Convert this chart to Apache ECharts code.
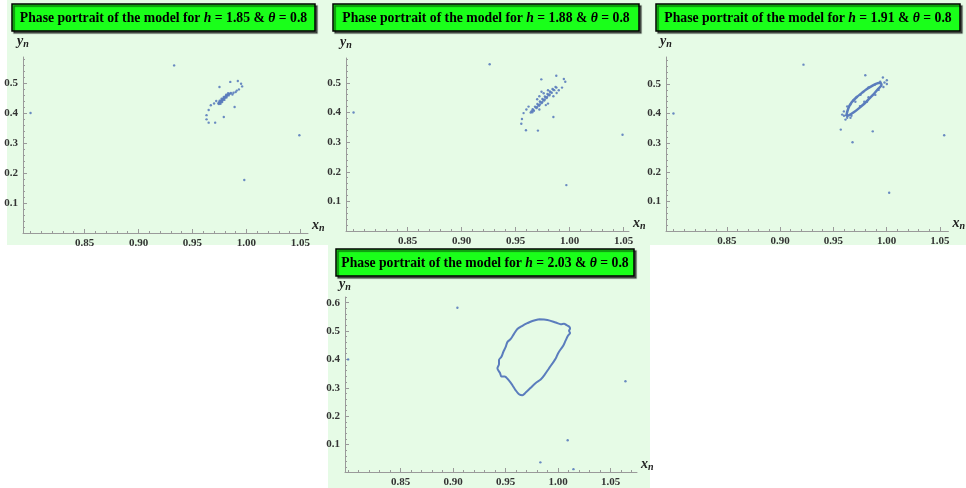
<!DOCTYPE html>
<html><head><meta charset="utf-8">
<script src="https://cdn.jsdelivr.net/npm/echarts@6/dist/echarts.min.js"></script>
<style>html,body{margin:0;padding:0;background:#fff}#c{width:966px;height:488px}</style>
</head><body><div id="c"></div>
<script>
// ---------------- data ----------------
const hValues = ['1.85', '1.88', '1.91', '2.03'];
const thetaValue = '0.8';
const xTickLabels = [0.85, 0.90, 0.95, 1.00, 1.05];
const xMinorTicks = [0.80,0.81,0.82,0.83,0.84,0.86,0.87,0.88,0.89,0.91,0.92,0.93,0.94,0.96,0.97,0.98,0.99,1.01,1.02,1.03,1.04,1.06,1.07,1.08];
const yTickLabelsTop = [0.1, 0.2, 0.3, 0.4, 0.5];
const yTickLabelsBottom = [0.1, 0.2, 0.3, 0.4, 0.5, 0.6];
const yMinorTicks = [0.02,0.04,0.06,0.08,0.12,0.14,0.16,0.18,0.22,0.24,0.26,0.28,0.32,0.34,0.36,0.38,0.42,0.44,0.46,0.48,0.52,0.54,0.56,0.58,0.62];

// h = 1.85 : iterates (x_n, y_n)
const points185 = [
  [0.800,0.400],[0.933,0.559],[1.049,0.326],[0.998,0.177],
  [0.985,0.504],[0.992,0.507],[0.995,0.498],[0.996,0.489],[0.993,0.479],[0.990,0.470],[0.987,0.462],
  [0.975,0.487],[0.967,0.426],[0.965,0.410],[0.963,0.393],[0.963,0.379],[0.965,0.368],[0.971,0.368],
  [0.989,0.420],[0.979,0.387],[0.970,0.432],[0.972,0.440],[0.988,0.468],[0.991,0.475],
  [0.9740,0.4320],[0.9745,0.4350],[0.9750,0.4330],[0.9752,0.4370],[0.9758,0.4360],[0.9762,0.4400],
  [0.9765,0.4380],[0.9770,0.4420],[0.9772,0.4440],[0.9778,0.4430],[0.9780,0.4470],[0.9785,0.4460],
  [0.9790,0.4490],[0.9793,0.4510],[0.9798,0.4500],[0.9802,0.4530],[0.9806,0.4550],[0.9810,0.4540],
  [0.9815,0.4570],[0.9820,0.4590],[0.9826,0.4600],[0.9832,0.4620],[0.9840,0.4640],[0.9848,0.4650],
  [0.9856,0.4670],[0.9745,0.4300],[0.9755,0.4345],[0.9768,0.4395],[0.9788,0.4475],[0.9808,0.4565],
  [0.9760,0.4310],[0.9775,0.4370],[0.9795,0.4440],[0.9815,0.4520],[0.9835,0.4590],[0.9752,0.4410],
  [0.9770,0.4480],[0.9790,0.4540],[0.9812,0.4610],[0.9830,0.4660]
];

// h = 1.88
const points188 = [
  [0.800,0.400],[0.926,0.563],[1.049,0.325],[0.997,0.155],
  [0.9640,0.4000],[0.9655,0.4010],[0.9648,0.4040],[0.9663,0.4086],[0.9670,0.4060],[0.9658,0.4110],
  [0.9686,0.4172],[0.9695,0.4150],[0.9680,0.4200],[0.9700,0.4190],[0.9709,0.4258],[0.9718,0.4230],
  [0.9702,0.4285],[0.9725,0.4270],[0.9732,0.4344],[0.9742,0.4320],[0.9725,0.4370],[0.9748,0.4355],
  [0.9755,0.4430],[0.9765,0.4405],[0.9748,0.4455],[0.9770,0.4440],[0.9778,0.4516],[0.9788,0.4490],
  [0.9771,0.4540],[0.9792,0.4525],[0.9801,0.4602],[0.9812,0.4578],[0.9795,0.4625],[0.9815,0.4610],
  [0.9824,0.4688],[0.9835,0.4665],[0.9818,0.4710],[0.9847,0.4774],[0.9858,0.4755],[0.9842,0.4795],
  [0.9870,0.4860],[0.9878,0.4840],
  [0.9738,0.512],[0.9877,0.524],[0.9947,0.513],[0.9960,0.504],[0.9930,0.484],[0.9900,0.475],[0.9880,0.466],
  [0.9574,0.398],[0.9559,0.378],[0.9553,0.362],[0.9596,0.340],[0.9707,0.339],[0.9850,0.385],
  [0.9600,0.410],[0.9620,0.420],[0.9700,0.445],[0.9720,0.455],[0.9760,0.465],[0.9800,0.475],
  [0.9850,0.455],[0.9800,0.430],[0.9780,0.425],[0.9720,0.410],[0.9740,0.470]
];

// h = 1.91 : closed invariant curve plus scattered iterates
const curve191 = [
  [0.9620,0.3900],[0.9640,0.4170],[0.9672,0.4380],[0.9718,0.4550],[0.9765,0.4690],[0.9812,0.4825],
  [0.9860,0.4930],[0.9905,0.5015],[0.9942,0.5040],[0.9952,0.4970],[0.9922,0.4840],[0.9882,0.4670],
  [0.9836,0.4500],[0.9790,0.4330],[0.9742,0.4180],[0.9695,0.4045],[0.9650,0.3940],[0.9620,0.3900]
];
const points191 = [
  [0.800,0.400],[0.922,0.566],[1.054,0.326],[1.0024,0.130],[0.987,0.339],[0.968,0.302],[0.957,0.345],[0.980,0.530],
  [0.9965,0.5225],[1.0002,0.513],[1.0002,0.500],[0.9887,0.497],[0.9754,0.463],[0.9707,0.440],[0.963,0.424],
  [0.9599,0.407],[0.9583,0.396],[0.9614,0.379],[0.9661,0.385],[0.9816,0.440],[0.9894,0.463],[0.9925,0.480],
  [0.997,0.490],[0.966,0.430],[0.969,0.445],[0.972,0.456],[0.978,0.473],[0.983,0.488],[0.975,0.425],
  [0.979,0.440],[0.983,0.455],[0.960,0.392],[0.963,0.385],[0.967,0.392],[0.994,0.508],[0.998,0.505]
];

// h = 2.03 : closed invariant curve plus scattered iterates
const curve203 = [
  [0.9817,0.5414],[0.9897,0.5390],[0.9976,0.5300],[1.0024,0.5240],[1.0055,0.5260],[1.0081,0.5207],
  [1.0103,0.5160],[1.0113,0.5090],[1.0103,0.5010],[1.0113,0.4930],[1.0094,0.4840],[1.0071,0.4670],
  [1.0049,0.4490],[1.0024,0.4360],[0.9998,0.4210],[0.9976,0.4030],[0.9945,0.3860],[0.9913,0.3690],
  [0.9871,0.3460],[0.9833,0.3290],[0.9786,0.3170],[0.9738,0.3000],[0.9690,0.2830],[0.9659,0.2735],
  [0.9627,0.2770],[0.9595,0.2910],[0.9564,0.3090],[0.9532,0.3250],[0.9490,0.3400],[0.9459,0.3400],
  [0.9446,0.3520],[0.9421,0.3690],[0.9436,0.3830],[0.9436,0.3980],[0.9459,0.4090],[0.9478,0.4270],
  [0.9500,0.4440],[0.9516,0.4610],[0.9548,0.4720],[0.9579,0.4900],[0.9611,0.5070],[0.9659,0.5184],
  [0.9706,0.5276],[0.9754,0.5355],[0.9817,0.5414]
];
const points203 = [
  [0.800,0.400],[0.904,0.582],[1.064,0.323],[1.009,0.115],[0.983,0.037],[1.0145,0.013]
];

// ---------------- layout ----------------
const panels = [
  {bg:[7,0,313,245],   title:[12,4,303,27],  grid:{left:23, top:57, width:285,height:176}, x:[0.793,1.057], y:[0,0.587], yt:yTickLabelsTop,    pts:points185, curve:null},
  {bg:[320,0,330,245], title:[333,4,306,27], grid:{left:346,top:58, width:283,height:173}, x:[0.793,1.055], y:[0,0.584], yt:yTickLabelsTop,    pts:points188, curve:null},
  {bg:[650,0,316,245], title:[656,4,304,27], grid:{left:666,top:57, width:286,height:174}, x:[0.793,1.058], y:[0,0.592], yt:yTickLabelsTop,    pts:points191, curve:curve191},
  {bg:[328,245,322,243],title:[336,249,298,27],grid:{left:345,top:297,width:292,height:179}, x:[0.797,1.075], y:[0.003,0.62], yt:yTickLabelsBottom, pts:points203, curve:curve203}
];

const SERIF = '"Liberation Serif","DejaVu Serif",serif';
const DOT = '#5b7dbd';
const AX = '#9a9a9a';
const TITLE_FS = 13.7;

const grids = [], xAxes = [], yAxes = [], series = [], graphics = [];
panels.forEach((p, g) => {
  grids.push(Object.assign({containLabel:false}, p.grid));
  graphics.push({type:'rect', z:-100, silent:true, shape:{x:p.bg[0], y:p.bg[1], width:p.bg[2], height:p.bg[3]}, style:{fill:'#e6fbe6'}});
  graphics.push({type:'rect', z:100, silent:true, shape:{x:p.title[0], y:p.title[1], width:p.title[2], height:p.title[3]},
    style:{fill:'#1aff1a', stroke:'#000', lineWidth:1.5, shadowColor:'rgba(0,0,0,0.55)', shadowOffsetX:2, shadowOffsetY:2, shadowBlur:1}});
  graphics.push({type:'text', z:101, silent:true, x:p.title[0] + p.title[2]/2, y:p.title[1] + p.title[3]/2 + 1,
    style:{text:'{b|Phase portrait of the model for }{i|h}{b| = ' + hValues[g] + ' & }{i|θ}{b| = ' + thetaValue + '}',
      align:'center', verticalAlign:'middle',
      rich:{b:{fontFamily:SERIF, fontWeight:'bold', fontSize:TITLE_FS, fill:'#000'}, i:{fontFamily:SERIF, fontWeight:'bold', fontStyle:'italic', fontSize:TITLE_FS, fill:'#000'}}}});

  const nameRich = {v:{fontFamily:SERIF, fontWeight:'bold', fontStyle:'italic', fontSize:14, color:'#222'},
                    s:{fontFamily:SERIF, fontWeight:'bold', fontStyle:'italic', fontSize:10, color:'#222', verticalAlign:'bottom', padding:[6,0,0,0]}};
  xAxes.push({type:'value', gridIndex:g, min:p.x[0], max:p.x[1], position:'bottom',
    name:'{v|x}{s|n}', nameLocation:'end', nameGap:4, nameTextStyle:{rich:nameRich, verticalAlign:'bottom'},
    axisLine:{show:true, onZero:false, lineStyle:{color:AX, width:1}},
    axisTick:{show:true, inside:true, length:4, customValues:xTickLabels, lineStyle:{color:AX}},
    axisLabel:{show:true, customValues:xTickLabels, margin:5, formatter:v => v.toFixed(2), fontFamily:SERIF, fontWeight:'bold', fontSize:11, color:'#333'},
    splitLine:{show:false}});
  xAxes.push({type:'value', gridIndex:g, min:p.x[0], max:p.x[1], position:'bottom',
    axisLine:{show:false, onZero:false}, axisLabel:{show:false}, splitLine:{show:false},
    axisTick:{show:true, inside:true, length:2, customValues:xMinorTicks, lineStyle:{color:AX}}});
  yAxes.push({type:'value', gridIndex:g, min:p.y[0], max:p.y[1], position:'left',
    name:'{v|y}{s|n}', nameLocation:'end', nameGap:g === 3 ? 5 : 8, nameTextStyle:{rich:nameRich},
    axisLine:{show:true, onZero:false, lineStyle:{color:AX, width:1}},
    axisTick:{show:true, inside:true, length:4, customValues:p.yt, lineStyle:{color:AX}},
    axisLabel:{show:true, customValues:p.yt, margin:5, formatter:v => v.toFixed(1), fontFamily:SERIF, fontWeight:'bold', fontSize:11, color:'#333'},
    splitLine:{show:false}});
  yAxes.push({type:'value', gridIndex:g, min:p.y[0], max:p.y[1], position:'left',
    axisLine:{show:false, onZero:false}, axisLabel:{show:false}, splitLine:{show:false},
    axisTick:{show:true, inside:true, length:2, customValues:yMinorTicks, lineStyle:{color:AX}}});

  if (p.curve) {
    series.push({type:'line', xAxisIndex:2*g, yAxisIndex:2*g, data:p.curve, showSymbol:false, smooth:0.3,
      lineStyle:{color:DOT, width:g === 3 ? 2 : 2.5}, itemStyle:{color:DOT}, silent:true, animation:false, z:3});
  }
  series.push({type:'scatter', xAxisIndex:2*g, yAxisIndex:2*g, data:p.pts, symbol:'circle', symbolSize:2.4,
    itemStyle:{color:DOT, opacity:0.9}, silent:true, animation:false, z:4});
});

const chart = echarts.init(document.getElementById('c'), null, {renderer:'canvas'});
chart.setOption({
  animation:false,
  backgroundColor:'#ffffff',
  grid:grids, xAxis:xAxes, yAxis:yAxes, series:series, graphic:graphics
});
</script></body></html>
